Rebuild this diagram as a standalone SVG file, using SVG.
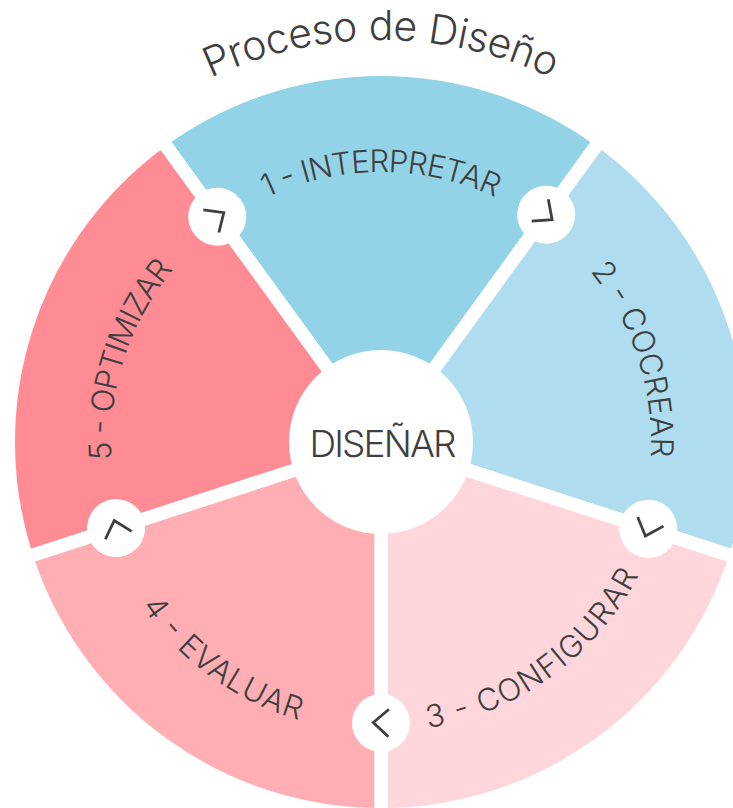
<svg xmlns="http://www.w3.org/2000/svg" width="733" height="808" viewBox="0 0 733 808">
<style>
.w{stroke:#fff;stroke-width:13.4;stroke-linejoin:miter}
text{font-family:"Inter","Lato","Liberation Sans",sans-serif;font-weight:300;fill:#3f3f3f;text-anchor:middle}
.l{font-size:31px}
.t{font-size:41px}
.c{font-size:37px}
.h{fill:#fff}
.v{fill:none;stroke:#3f3f3f;stroke-width:2.8}
</style>
<defs>
<path id="cw" d="M381 712A270 270 0 1 1 381 172A270 270 0 1 1 381 712"/>
<path id="ccw" d="M381 152A290 290 0 1 0 381 732A290 290 0 1 0 381 152"/>
<path id="title" d="M180 93.9A402 402 0 0 1 582 93.9"/>
<polyline id="chev" class="v" points="389,709.3 373.3,722.5 388.3,736.7"/>
</defs>
<rect width="733" height="808" fill="#fff"/>
<g id="node-title"><text class="t"><textPath href="#title" startOffset="50%" textLength="352" lengthAdjust="spacing">Proceso de Diseño</textPath></text></g>
<g id="node-1"><path class="w" fill="#93d3e8" d="M381 442L161.93 140.48A372.7 372.7 0 0 1 600.07 140.48Z"/>
<text class="l"><textPath href="#cw" startOffset="50%" textLength="236" lengthAdjust="spacing">1 - INTERPRETAR</textPath></text></g>
<g id="node-2"><path class="w" fill="#afdcee" d="M381 442L600.07 140.48A372.7 372.7 0 0 1 735.46 557.17Z"/>
<text class="l" transform="rotate(72 381 442)"><textPath href="#cw" startOffset="50%" textLength="200" lengthAdjust="spacing">2 - COCREAR</textPath></text></g>
<g id="node-3"><path class="w" fill="#ffd6db" d="M381 442L735.46 557.17A372.7 372.7 0 0 1 381 814.7Z"/>
<text class="l" transform="rotate(-36 381 442)"><textPath href="#ccw" startOffset="50%" textLength="270" lengthAdjust="spacing">3 - CONFIGURAR</textPath></text></g>
<g id="node-4"><path class="w" fill="#ffaeb4" d="M381 442L381 814.7A372.7 372.7 0 0 1 26.54 557.17Z"/>
<text class="l" transform="rotate(36 381 442)"><textPath href="#ccw" startOffset="50%" textLength="198" lengthAdjust="spacing">4 - EVALUAR</textPath></text></g>
<g id="node-5"><path class="w" fill="#ff8c94" d="M381 442L26.54 557.17A372.7 372.7 0 0 1 161.93 140.48Z"/>
<text class="l" transform="rotate(-72 381 442)"><textPath href="#cw" startOffset="50%" textLength="205" lengthAdjust="spacing">5 - OPTIMIZAR</textPath></text></g>
<g id="node-center"><circle class="h" cx="381" cy="442" r="92"/><text class="c" x="383" y="457" textLength="147" lengthAdjust="spacing">DISEÑAR</text></g>
<g id="connectors">
<g transform="rotate(-144 381 442)"><circle class="h" cx="381" cy="723" r="29"/><use href="#chev"/></g>
<g transform="rotate(-72 381 442)"><circle class="h" cx="381" cy="723" r="29"/><use href="#chev"/></g>
<g><circle class="h" cx="381" cy="723" r="29"/><use href="#chev"/></g>
<g transform="rotate(72 381 442) translate(0 -2.5)"><circle class="h" cx="381" cy="723" r="29"/><use href="#chev"/></g>
<g transform="rotate(144 381 442) translate(0 -2.5)"><circle class="h" cx="381" cy="723" r="29"/><use href="#chev"/></g>
</g>
</svg>
